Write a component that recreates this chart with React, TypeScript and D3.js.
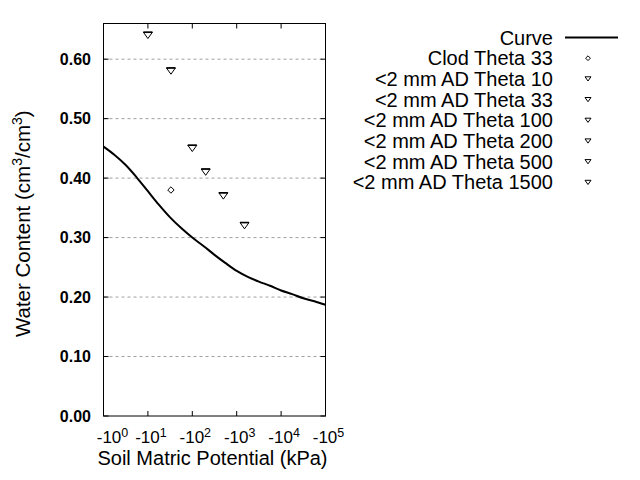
import React from 'react';
import * as d3 from 'd3';

// Fitted retention curve (|matric potential| in kPa, water content)
const curvePsi = [1, 1.78, 3.16, 5.62, 10, 17.8, 31.6, 56.2, 100, 178, 316, 562, 1000, 1778, 3162, 5623, 10000, 17783, 31623, 56234, 100000];
const curveTheta = [0.453, 0.439, 0.422, 0.401, 0.378, 0.355, 0.334, 0.316, 0.3, 0.286, 0.271, 0.257, 0.244, 0.234, 0.226, 0.219, 0.211, 0.205, 0.198, 0.193, 0.187];

// Measured points
const pointLabels = ['Clod Theta 33', '<2 mm AD Theta 10', '<2 mm AD Theta 33', '<2 mm AD Theta 100', '<2 mm AD Theta 200', '<2 mm AD Theta 500', '<2 mm AD Theta 1500'];
const pointPsi = [33, 10, 33, 100, 200, 500, 1500];
const pointTheta = [0.38, 0.64, 0.58, 0.45, 0.41, 0.37, 0.32];
const pointShapes = ['diamond', 'triangle', 'triangle', 'triangle', 'triangle', 'triangle', 'triangle'];

const yTicks = [0, 0.1, 0.2, 0.3, 0.4, 0.5, 0.6];
const xTickExponents = [0, 1, 2, 3, 4, 5];

const FONT = '"Liberation Sans", Arial, Helvetica, sans-serif';

const L = 103.5, R = 325.5, T = 23.5, B = 416;

function Marker({ shape, x, y, s }: { shape: string; x: number; y: number; s: number }) {
  if (shape === 'diamond') {
    const p = `M${x},${y - s * 0.8} L${x + s * 0.8},${y} L${x},${y + s * 0.8} L${x - s * 0.8},${y} Z`;
    return <path d={p} fill="white" stroke="black" strokeWidth={1} />;
  }
  const w = s, h = s * 0.7;
  const p = `M${x - w},${y - h} L${x + w},${y - h} L${x},${y + h} Z`;
  return (
    <g>
      <path d={p} fill="white" stroke="black" strokeWidth={1} />
      {s > 3 && <line x1={x - w} x2={x + w} y1={y - h} y2={y - h} stroke="black" strokeWidth={1.6} />}
    </g>
  );
}

export default function App() {
  const x = d3.scaleLog().domain([1, 1e5]).range([L, R]);
  const y = d3.scaleLinear().domain([0, 0.66]).range([B, T]);
  const line = d3
    .line<number>()
    .x((_, i) => x(curvePsi[i]))
    .y((d) => y(d))
    .curve(d3.curveCatmullRom.alpha(0.5));

  const legendX = 553;
  const legendRow0 = 37.5;
  const legendStep = 20.7;
  const symX = 588;

  return (
    <svg width={640} height={480} style={{ position: 'absolute', left: 0, top: 0, background: 'white' }} fontFamily={FONT}>
      <rect x={0} y={0} width={640} height={480} fill="white" />
      {/* grid */}
      {yTicks.slice(1).map((t) => (
        <line key={'g' + t} x1={L} x2={R} y1={y(t)} y2={y(t)} stroke="#a0a0a0" strokeWidth={1} strokeDasharray="3,3" />
      ))}
      {/* y ticks */}
      {yTicks.map((t) => (
        <g key={'yt' + t}>
          <line x1={L} x2={L + 5} y1={y(t)} y2={y(t)} stroke="black" />
          <line x1={R - 5} x2={R} y1={y(t)} y2={y(t)} stroke="black" />
          <text x={91} y={y(t) + 5.5} textAnchor="end" fontSize={16} fontWeight="bold" fill="black">
            {t.toFixed(2)}
          </text>
        </g>
      ))}
      {/* x ticks */}
      {xTickExponents.map((e, i) => {
        const px = x(Math.pow(10, e));
        return (
          <g key={'xt' + e}>
            <line x1={px} x2={px} y1={T} y2={T + 5} stroke="black" />
            <line x1={px} x2={px} y1={B} y2={B - 5} stroke="black" />
            <text x={px + (i === 0 ? 9 : 3)} y={443} textAnchor="middle" fontSize={17} fill="black">
              -10
              <tspan dy={-6} fontSize={12.5}>{e}</tspan>
            </text>
          </g>
        );
      })}
      {/* curve */}
      <path d={line(curveTheta) || ''} fill="none" stroke="black" strokeWidth={2} />
      {/* points */}
      {pointPsi.map((p, i) => (
        <Marker key={'p' + i} shape={pointShapes[i]} x={x(p)} y={y(pointTheta[i])} s={pointShapes[i] === 'diamond' ? 4 : 4.5} />
      ))}
      {/* frame */}
      <rect x={L} y={T} width={R - L} height={B - T} fill="none" stroke="black" strokeWidth={1} />
      {/* axis titles */}
      <text x={(L + R) / 2 - 2} y={465} textAnchor="middle" fontSize={20} fill="black">
        Soil Matric Potential (kPa)
      </text>
      <text transform={`translate(30,${(T + B) / 2 + 4}) rotate(-90)`} textAnchor="middle" fontSize={20.5} fill="black">
        Water Content (cm<tspan dy={-8} fontSize={14}>3</tspan>
        <tspan dy={8}>/cm</tspan>
        <tspan dy={-8} fontSize={14}>3</tspan>
        <tspan dy={8}>)</tspan>
      </text>
      {/* legend */}
      <text x={legendX} y={legendRow0 + 7} textAnchor="end" fontSize={20} fill="black">Curve</text>
      <line x1={565} x2={618} y1={legendRow0} y2={legendRow0} stroke="black" strokeWidth={2} />
      {pointLabels.map((lab, i) => {
        const cy = legendRow0 + legendStep * (i + 1);
        return (
          <g key={'l' + i}>
            <text x={legendX} y={cy + 7} textAnchor="end" fontSize={20} fill="black">{lab}</text>
            <Marker shape={pointShapes[i]} x={symX} y={cy} s={3} />
          </g>
        );
      })}
    </svg>
  );
}
